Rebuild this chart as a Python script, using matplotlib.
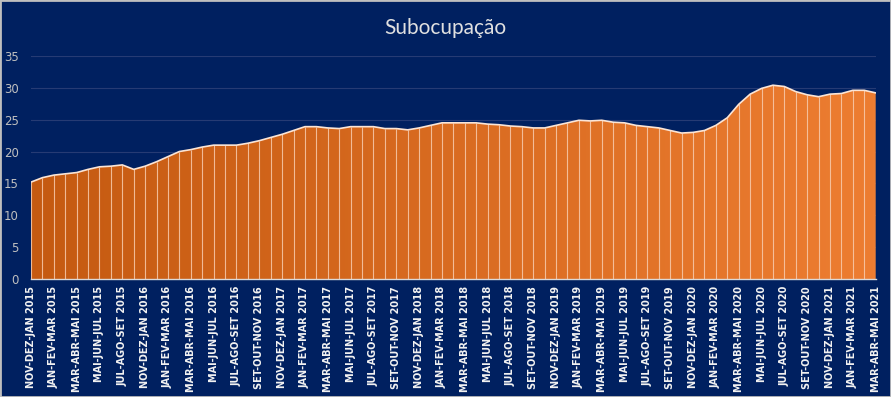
import matplotlib
matplotlib.use("Agg")

import matplotlib.pyplot as plt
import numpy as np
from matplotlib.colors import LinearSegmentedColormap

# ── Data ──────────────────────────────────────────────────────────────────────

subocupacao = [
    15.2, 15.9, 16.3, 16.5, 16.7, 17.2, 17.6, 17.7, 17.9, 17.2,
    17.7, 18.4, 19.2, 20.0, 20.3, 20.7, 21.0, 21.0, 21.0, 21.3,
    21.7, 22.2, 22.7, 23.3, 23.9, 23.9, 23.7, 23.6, 23.9, 23.9,
    23.9, 23.6, 23.6, 23.4, 23.7, 24.1, 24.5, 24.5, 24.5, 24.5,
    24.3, 24.2, 24.0, 23.9, 23.7, 23.7, 24.1, 24.5, 24.9, 24.8,
    24.9, 24.6, 24.5, 24.1, 23.9, 23.7, 23.3, 22.9, 23.0, 23.3,
    24.1, 25.3, 27.4, 29.0, 29.9, 30.4, 30.2, 29.4, 28.9, 28.6,
    29.0, 29.1, 29.6, 29.6, 29.2,
]

# labels shown on every other period
tick_labels = [
    "NOV-DEZ-JAN 2015", "JAN-FEV-MAR 2015", "MAR-ABR-MAI 2015", "MAI-JUN-JUL 2015",
    "JUL-AGO-SET 2015", "NOV-DEZ-JAN 2016", "JAN-FEV-MAR 2016", "MAR-ABR-MAI 2016",
    "MAI-JUN-JUL 2016", "JUL-AGO-SET 2016", "SET-OUT-NOV 2016", "NOV-DEZ-JAN 2017",
    "JAN-FEV-MAR 2017", "MAR-ABR-MAI 2017", "MAI-JUN-JUL 2017", "JUL-AGO-SET 2017",
    "SET-OUT-NOV 2017", "NOV-DEZ-JAN 2018", "JAN-FEV-MAR 2018", "MAR-ABR-MAI 2018",
    "MAI-JUN-JUL 2018", "JUL-AGO-SET 2018", "SET-OUT-NOV 2018", "NOV-DEZ-JAN 2019",
    "JAN-FEV-MAR 2019", "MAR-ABR-MAI 2019", "MAI-JUN-JUL 2019", "JUL-AGO-SET 2019",
    "SET-OUT-NOV 2019", "NOV-DEZ-JAN 2020", "JAN-FEV-MAR 2020", "MAR-ABR-MAI 2020",
    "MAI-JUN-JUL 2020", "JUL-AGO-SET 2020", "SET-OUT-NOV 2020", "NOV-DEZ-JAN 2021",
    "JAN-FEV-MAR 2021", "MAR-ABR-MAI 2021",
]

y_ticks = [0, 5, 10, 15, 20, 25, 30, 35]

# ── Style ─────────────────────────────────────────────────────────────────────

BG = "#002060"
ORANGE_DARK = "#C55A11"
ORANGE_LIGHT = "#ED7D31"

# ── Plot ──────────────────────────────────────────────────────────────────────

y = np.asarray(subocupacao)
x = np.arange(len(y))

fig = plt.figure(figsize=(8.91, 3.97), dpi=100, facecolor=BG)
fig.patches.append(plt.Rectangle((0, 0), 1, 1, transform=fig.transFigure,
                                 fill=False, edgecolor="#BFBFBF", linewidth=2))
ax = fig.add_axes([0.0348, 0.2972, 0.948, 0.5620])
ax.set_facecolor(BG)

# gradient fill clipped to the area polygon
poly = ax.fill_between(x, 0, y, facecolor="none", edgecolor="none")
cmap = LinearSegmentedColormap.from_list("grad", [ORANGE_DARK, ORANGE_LIGHT])
grad = np.linspace(0, 1, 256).reshape(1, -1)
im = ax.imshow(grad, cmap=cmap, aspect="auto", extent=[x[0], x[-1], 0, 35],
               origin="lower", zorder=2)
im.set_clip_path(poly.get_paths()[0], transform=ax.transData)

ax.vlines(x, 0, y, color="#F8CBAD", linewidth=0.8, alpha=0.85, zorder=3)
ax.plot(x, y, color="#FBE5D6", linewidth=1.2, zorder=4)

ax.set_xlim(x[0], x[-1])
ax.set_ylim(0, 35)
ax.set_yticks(y_ticks)
ax.yaxis.grid(True, color="#263B74", linewidth=0.8)
ax.set_axisbelow(True)

ax.set_xticks(x[::2])
ax.set_xticklabels(tick_labels, rotation=90, fontsize=7, fontweight="bold",
                   color="#F2F2F2", family="DejaVu Sans")
ax.tick_params(axis="x", length=0, pad=5)
ax.tick_params(axis="y", length=0, pad=9, labelsize=8.5, labelcolor="#BFBFBF")

for side in ("top", "right", "left"):
    ax.spines[side].set_visible(False)
ax.spines["bottom"].set_color("#D9D9D9")
ax.spines["bottom"].set_linewidth(1)
ax.spines["bottom"].set_zorder(5)

fig.text(0.5, 0.93, "Subocupação", ha="center", va="center", fontsize=15,
         color="#E0E0E0", family="Lato")

fig.savefig("out.png", dpi=100, facecolor=BG)
